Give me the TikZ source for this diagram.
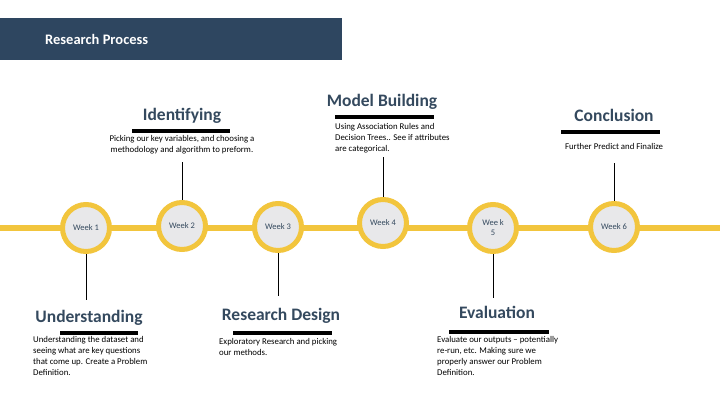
\documentclass[tikz,border=0pt]{standalone}
\usepackage{fontspec}
\setmainfont{Carlito}
\definecolor{hdr}{HTML}{2E4660}
\definecolor{ttl}{HTML}{34495E}
\definecolor{yel}{HTML}{F2C53D}
\definecolor{cfill}{HTML}{E8E8EA}
\begin{document}
\begin{tikzpicture}[x=1pt,y=-1pt,
  wk/.style={circle,draw=yel,line width=5pt,fill=cfill,minimum size=47pt,inner sep=0pt,font=\fontsize{8.5}{10}\selectfont,text=ttl,align=center},
  ttlnode/.style={font=\fontsize{17.5}{19}\selectfont\bfseries,text=ttl},
  desc/.style={font=\fontsize{8.8}{11}\selectfont,align=left,anchor=north west,inner sep=0pt},
  bar/.style={line width=4pt},
  stem/.style={line width=1pt}]
\useasboundingbox (0,0) rectangle (720,405);
\fill[hdr] (0,18) rectangle (342,60);
\node[text=white,font=\fontsize{14.5}{16}\selectfont\bfseries,anchor=west,inner sep=0pt] (hd) at (45,39) {Research Process};
\coordinate (L) at (0,228); \coordinate (R) at (720,228);
\draw[yel,line width=6pt] (L) -- (R);
\node[wk] (w1) at (86,228) {Week 1};
\node[wk] (w2) at (182,226) {Week 2};
\node[wk] (w3) at (278,227) {Week 3};
\node[wk] (w4) at (383,223) {Week 4};
\node[wk] (w5) at (493,228) {Wee k\\5};
\node[wk] (w6) at (614,227) {Week 6};
% top labels
\node[ttlnode] (t2) at (182,116) {Identifying};
\coordinate (b2a) at (132,131); \coordinate (b2b) at (230,131); \draw[bar] (b2a)--(b2b);
\node[desc,align=center,anchor=north] (d2) at (182,135) {Picking our key variables, and choosing a\\methodology and algorithm to preform.};
\coordinate (s2) at (182,162); \draw[stem] (s2) -- (w2.north);
\node[ttlnode] (t4) at (382,102) {Model Building};
\coordinate (b4a) at (335,117); \coordinate (b4b) at (434,117); \draw[bar] (b4a)--(b4b);
\node[desc] (d4) at (335,123) {Using Association Rules and\\Decision Trees.. See if attributes\\are categorical.};
\coordinate (s4) at (383,157); \draw[stem] (s4) -- (w4.north);
\node[ttlnode] (t6) at (614,115) {Conclusion};
\coordinate (b6a) at (561,132); \coordinate (b6b) at (660,132); \draw[bar] (b6a)--(b6b);
\node[desc,anchor=north] (d6) at (614,143) {Further Predict and Finalize};
\coordinate (s6) at (614,163); \draw[stem] (s6) -- (w6.north);
% bottom labels
\coordinate (s1) at (86,300); \draw[stem] (w1.south) -- (s1);
\node[ttlnode] (t1) at (89,318) {Understanding};
\coordinate (b1a) at (60,333); \coordinate (b1b) at (138,333); \draw[bar] (b1a)--(b1b);
\node[desc] (d1) at (33,336) {Understanding the dataset and\\seeing what are key questions\\that come up. Create a Problem\\Definition.};
\coordinate (s3) at (278,296); \draw[stem] (w3.south) -- (s3);
\node[ttlnode] (t3) at (281,316) {Research Design};
\coordinate (b3a) at (233,333); \coordinate (b3b) at (332,333); \draw[bar] (b3a)--(b3b);
\node[desc] (d3) at (219,338) {Exploratory Research and picking\\our methods.};
\coordinate (s5) at (493,298); \draw[stem] (w5.south) -- (s5);
\node[ttlnode] (t5) at (497,312) {Evaluation};
\coordinate (b5a) at (449,332); \coordinate (b5b) at (549,332); \draw[bar] (b5a)--(b5b);
\node[desc] (d5) at (437,336) {Evaluate our outputs -- potentially\\re-run, etc. Making sure we\\properly answer our Problem\\Definition.};
\end{tikzpicture}
\end{document}
